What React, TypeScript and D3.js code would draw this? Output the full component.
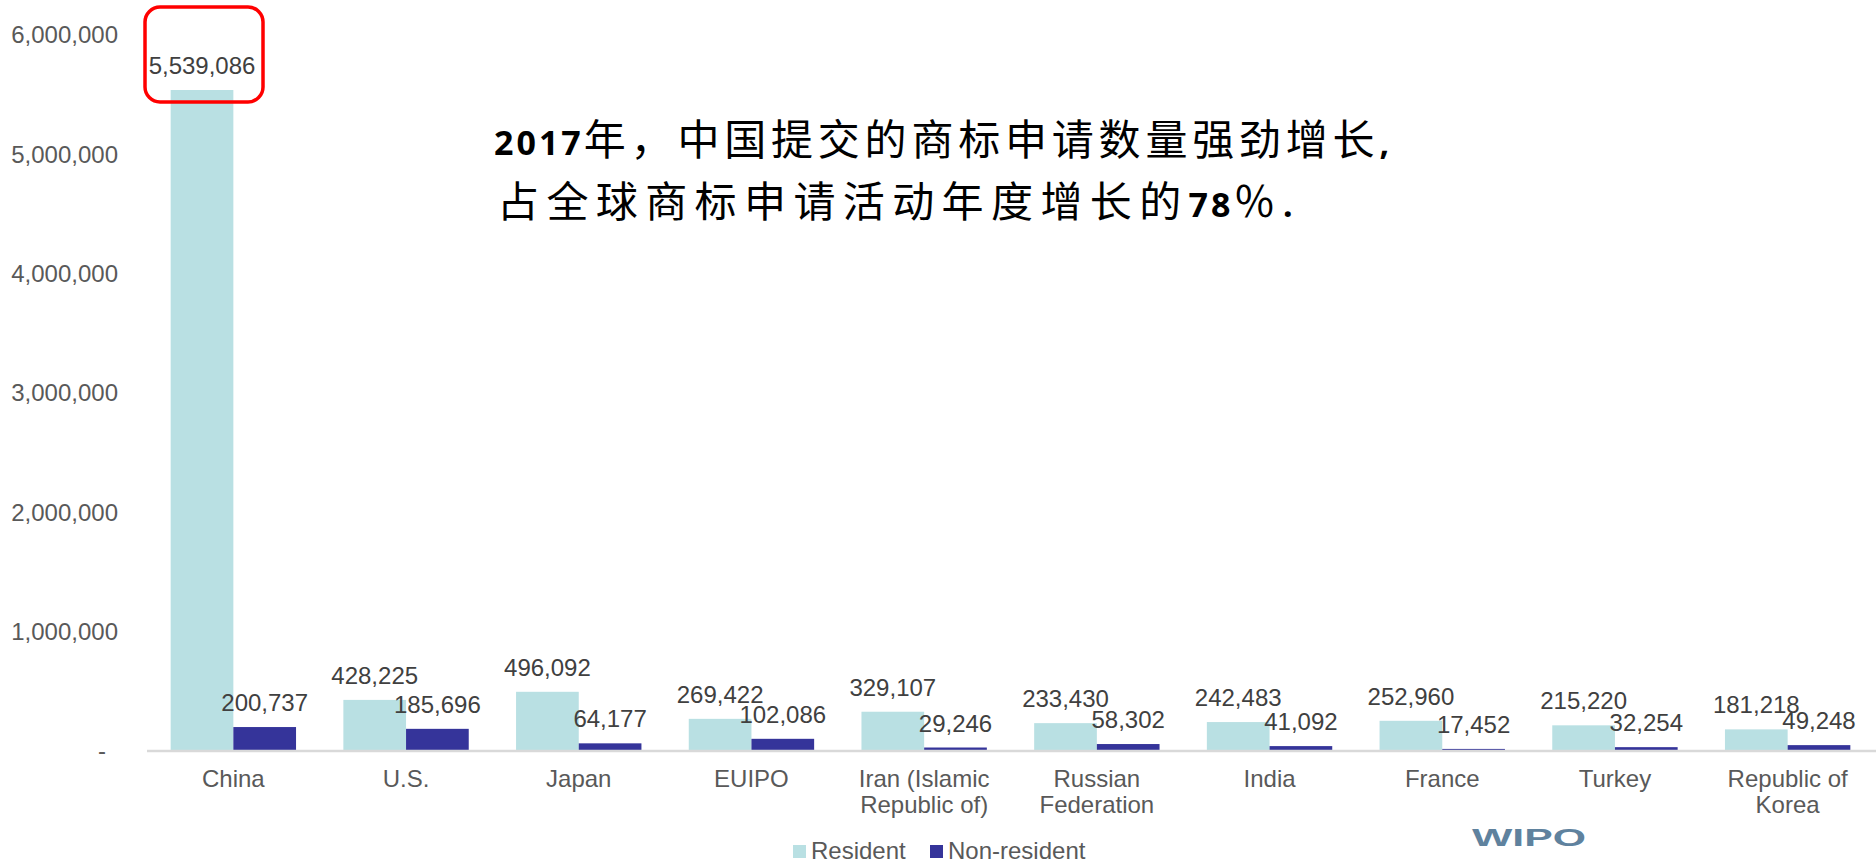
import { useEffect, useRef } from "react"
import * as d3 from "d3"

// data
const categories = ["China", "U.S.", "Japan", "EUIPO", "Iran (Islamic Republic of)", "Russian Federation", "India", "France", "Turkey", "Republic of Korea"]
const categoryLines = [["China"], ["U.S."], ["Japan"], ["EUIPO"], ["Iran (Islamic", "Republic of)"], ["Russian", "Federation"], ["India"], ["France"], ["Turkey"], ["Republic of", "Korea"]]
const resident = [5539086, 428225, 496092, 269422, 329107, 233430, 242483, 252960, 215220, 181218]
const nonResident = [200737, 185696, 64177, 102086, 29246, 58302, 41092, 17452, 32254, 49248]
const seriesNames = ["Resident", "Non-resident"]
const seriesColors = ["#b9e0e3", "#35349a"]
const yTicks = [0, 1000000, 2000000, 3000000, 4000000, 5000000, 6000000]
const titleLine1 = [["2017", true], ["年，中国提交的商标申请数量强劲增长", false], [",", true]] as [string, boolean][]
const titleLine2 = [["占全球商标申请活动年度增长的", false], ["78", true], ["％", false], [".", true]] as [string, boolean][]

const W = 1876
const H = 865
const SANS = "'Liberation Sans', Arial, sans-serif"

const App = () => {
  const ref = useRef<SVGSVGElement>(null)

  useEffect(() => {
    const svg = d3.select(ref.current)
    svg.selectAll("*").remove()

    const x = d3.scaleBand().domain(categories).range([147, 1874]).paddingInner(0.274).paddingOuter(0.137)
    const xs = d3.scaleBand().domain(seriesNames).range([0, x.bandwidth()])
    const y = d3.scaleLinear().domain([0, 6000000]).range([751, 35])
    const fmt = d3.format(",")

    // y axis labels
    svg.append("g")
      .selectAll("text")
      .data(yTicks)
      .join("text")
      .attr("x", d => d === 0 ? 106 : 118)
      .attr("y", d => y(d))
      .attr("dy", "0.35em")
      .attr("text-anchor", "end")
      .attr("font-family", SANS)
      .attr("font-size", 24)
      .attr("fill", "#595959")
      .text(d => d === 0 ? "-" : fmt(d))

    const rows = categories.map((c, i) => ({ c, vals: [resident[i], nonResident[i]] }))

    const groups = svg.append("g")
      .selectAll("g")
      .data(rows)
      .join("g")
      .attr("transform", d => `translate(${x(d.c)},0)`)

    groups.selectAll("rect")
      .data(d => d.vals.map((v, j) => ({ v, s: seriesNames[j], j })))
      .join("rect")
      .attr("x", d => xs(d.s)!)
      .attr("width", xs.bandwidth())
      .attr("y", d => y(d.v))
      .attr("height", d => y(0) - y(d.v))
      .attr("fill", d => seriesColors[d.j])

    // axis line
    svg.append("line")
      .attr("x1", 147).attr("x2", W)
      .attr("y1", y(0)).attr("y2", y(0))
      .attr("stroke", "#d9d9d9").attr("stroke-width", 2.5)

    // value labels
    groups.selectAll("text.val")
      .data(d => d.vals.map((v, j) => ({ v, s: seriesNames[j] })))
      .join("text")
      .attr("class", "val")
      .attr("x", d => xs(d.s)! + xs.bandwidth() / 2)
      .attr("y", d => y(d.v) - 16)
      .attr("text-anchor", "middle")
      .attr("font-family", SANS)
      .attr("font-size", 24)
      .attr("fill", "#404040")
      .text(d => fmt(d.v))

    // category labels
    groups.append("text")
      .attr("text-anchor", "middle")
      .attr("font-family", SANS)
      .attr("font-size", 24)
      .attr("fill", "#595959")
      .selectAll("tspan")
      .data((d, i) => categoryLines[i])
      .join("tspan")
      .attr("x", x.bandwidth() / 2)
      .attr("y", (d, k) => 787 + k * 26)
      .text(d => d)

    // red highlight box round the China label
    const cx = x(categories[0])! + xs(seriesNames[0])! + xs.bandwidth() / 2
    svg.append("rect")
      .attr("x", cx - 57)
      .attr("y", 7)
      .attr("width", 118)
      .attr("height", y(resident[0]) + 12 - 7)
      .attr("rx", 15)
      .attr("fill", "none")
      .attr("stroke", "#ff0000")
      .attr("stroke-width", 3.5)

    // title: each run is its own text, placed after the previous one is measured
    const drawLine = (parts: [string, boolean][], x0: number, base: number, cjkSpacing: number) => {
      let cur = x0
      parts.forEach(([s, bold]) => {
        const t = svg.append("text")
          .attr("x", cur).attr("y", base)
          .attr("fill", "#000")
          .attr("letter-spacing", bold ? 3 : cjkSpacing)
          .attr("font-family", bold ? "'Noto Sans', 'Open Sans', sans-serif" : "'Noto Sans CJK SC', sans-serif")
          .attr("font-weight", bold ? 700 : 400)
          .attr("font-size", bold ? 34 : 42)
          .text(s)
        cur += (t.node() as SVGTextElement).getComputedTextLength()
      })
    }
    drawLine(titleLine1, 494, 155, 4.8)
    drawLine(titleLine2, 497, 217, 7.4)

    // legend
    const lx = [793, 930]
    const leg = svg.append("g")
      .selectAll("g")
      .data(seriesNames)
      .join("g")
      .attr("transform", (d, i) => `translate(${lx[i]},845)`)
    leg.append("rect").attr("width", 13).attr("height", 13).attr("fill", (d, i) => seriesColors[i])
    leg.append("text")
      .attr("x", 18).attr("y", 14)
      .attr("font-family", SANS).attr("font-size", 24).attr("fill", "#595959")
      .text(d => d)

    // logo
    svg.append("text")
      .attr("x", 1472).attr("y", 846)
      .attr("textLength", 114)
      .attr("lengthAdjust", "spacingAndGlyphs")
      .attr("font-family", SANS).attr("font-weight", 700).attr("font-size", 24)
      .attr("fill", "#5f829e")
      .text("WIPO")
  }, [])

  return (
    <svg ref={ref} width={W} height={H} viewBox={`0 0 ${W} ${H}`}
      style={{ position: "absolute", left: 0, top: 0, display: "block", background: "#fff" }} />
  )
}

export default App
